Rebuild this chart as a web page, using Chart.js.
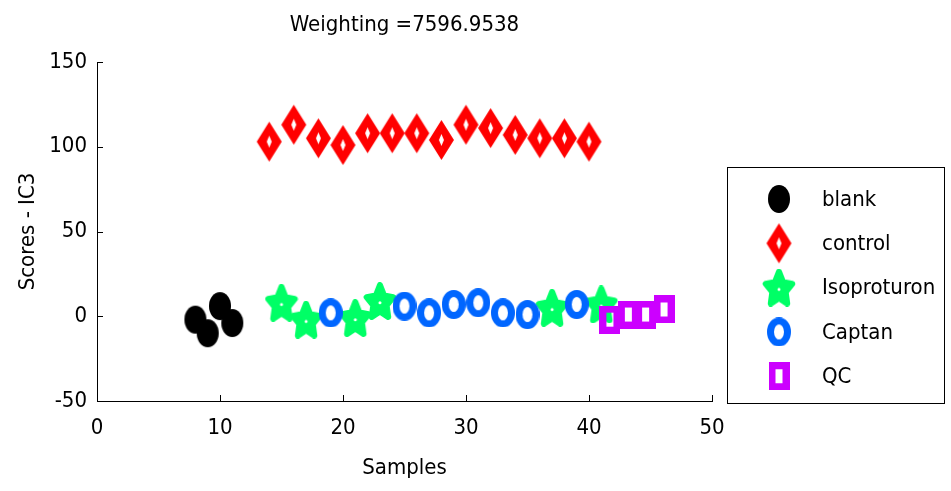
<!DOCTYPE html>
<html>
<head>
<meta charset="utf-8">
<script src="https://cdn.jsdelivr.net/npm/chart.js@4.4.1/dist/chart.umd.min.js"></script>
<style>
  html, body { margin: 0; padding: 0; background: #fff; }
  #wrap { width: 951px; height: 491px; }
</style>
</head>
<body>
<div id="wrap"><canvas id="chart" width="951" height="491"></canvas></div>
<script>
// sample index / IC3 score
const blankX = [8, 9, 10, 11];
const blankY = [-2, -10, 6, -4];
const controlX = [14, 16, 18, 20, 22, 24, 26, 28, 30, 32, 34, 36, 38, 40];
const controlY = [103, 113, 105, 101, 108, 108, 108, 104, 113, 111, 107, 105, 105, 103];
const isoX = [15, 17, 21, 23, 37, 41];
const isoY = [8, -2, -1, 9, 5, 7];
const captanX = [19, 25, 27, 29, 31, 33, 35, 39];
const captanY = [2, 6, 2, 7, 8, 2, 1, 7];
const qcX = [41.7, 43.2, 44.6, 46.1];
const qcY = [-2, 1, 1, 4];

const seriesNames = ['blank', 'control', 'Isoproturon', 'Captan', 'QC'];
const xTicks = [0, 10, 20, 30, 40, 50];
const yTicks = [-50, 0, 50, 100, 150];

const FONT = "'Liberation Sans Narrow', 'DejaVu Sans Condensed', 'Liberation Sans', sans-serif";
const FSIZE = 22;

// --- marker images (MATLAB-like symbols, a bit taller than wide) ---
function makeMarker(w, h, draw) {
    const c = document.createElement('canvas');
    c.width = w; c.height = h;
    draw(c.getContext('2d'), w, h);
    return c;
}

const blankMarker = makeMarker(24, 30, (ctx, w, h) => {
    ctx.fillStyle = '#000';
    ctx.beginPath();
    ctx.ellipse(w / 2, h / 2, w / 2 - 1, h / 2 - 1, 0, 0, Math.PI * 2);
    ctx.fill();
});

const diamondMarker = makeMarker(27, 42, (ctx, w, h) => {
    ctx.fillStyle = '#ff0000';
    ctx.beginPath();
    ctx.moveTo(w / 2, 1); ctx.lineTo(w - 1, h / 2); ctx.lineTo(w / 2, h - 1); ctx.lineTo(1, h / 2);
    ctx.closePath(); ctx.fill();
    ctx.fillStyle = '#fff';
    ctx.beginPath();
    ctx.moveTo(w / 2, h / 2 - 6); ctx.lineTo(w / 2 + 2.5, h / 2); ctx.lineTo(w / 2, h / 2 + 6); ctx.lineTo(w / 2 - 2.5, h / 2);
    ctx.closePath(); ctx.fill();
});

const starMarker = makeMarker(34, 38, (ctx, w, h) => {
    const lw = 6;
    const rx = w / 2 - lw / 2, ry = (h - lw) / 1.81;
    const cx = w / 2, cy = lw / 2 + ry;
    ctx.fillStyle = '#00ff66';
    ctx.strokeStyle = '#00ff66';
    ctx.lineWidth = lw;
    ctx.lineJoin = 'round';
    ctx.beginPath();
    for (let i = 0; i < 10; i++) {
        const a = -Math.PI / 2 + i * Math.PI / 5;
        const r = i % 2 === 0 ? 1 : 0.5;
        const px = cx + Math.cos(a) * rx * r, py = cy + Math.sin(a) * ry * r;
        if (i === 0) ctx.moveTo(px, py); else ctx.lineTo(px, py);
    }
    ctx.closePath(); ctx.fill(); ctx.stroke();
    ctx.fillStyle = '#fff';
    ctx.beginPath(); ctx.arc(cx, cy, 1.5, 0, Math.PI * 2); ctx.fill();
});

const circleMarker = makeMarker(24, 29, (ctx, w, h) => {
    ctx.strokeStyle = '#0066ff';
    ctx.lineWidth = 7;
    ctx.beginPath();
    ctx.ellipse(w / 2, h / 2, w / 2 - 3.5, h / 2 - 3.5, 0, 0, Math.PI * 2);
    ctx.stroke();
});

const squareMarker = makeMarker(21, 28, (ctx, w, h) => {
    ctx.strokeStyle = '#cc00ff';
    ctx.lineWidth = 7;
    ctx.strokeRect(3.5, 3.5, w - 7, h - 7);
});

function pts(xs, ys) {
    return xs.map((x, i) => ({ x: x, y: ys[i] }));
}

// MATLAB-style ticks pointing into the plot
const innerTicks = {
    id: 'innerTicks',
    afterDatasetsDraw(chart) {
        const ctx = chart.ctx, a = chart.chartArea;
        const xs = chart.scales.x, ys = chart.scales.y;
        ctx.save();
        ctx.strokeStyle = '#000';
        ctx.lineWidth = 1;
        ctx.beginPath();
        xTicks.forEach(v => {
            if (v === xs.min) return;
            const px = Math.round(xs.getPixelForValue(v)) + 0.5;
            ctx.moveTo(px, a.bottom); ctx.lineTo(px, a.bottom - 6);
        });
        yTicks.forEach(v => {
            if (v === ys.min) return;
            const py = Math.round(ys.getPixelForValue(v)) + 0.5;
            ctx.moveTo(a.left, py); ctx.lineTo(a.left + 6, py);
        });
        ctx.stroke();
        ctx.restore();
    }
};

// boxed legend to the right of the axes
const boxLegend = {
    id: 'boxLegend',
    afterDraw(chart) {
        const ctx = chart.ctx;
        ctx.save();
        ctx.strokeStyle = '#000';
        ctx.lineWidth = 1;
        ctx.strokeRect(727.5, 167.5, 217, 236);
        ctx.font = FSIZE + 'px ' + FONT;
        ctx.fillStyle = '#000';
        ctx.textBaseline = 'middle';
        chart.data.datasets.forEach((ds, i) => {
            const y = 199 + i * 44.3;
            const m = ds.pointStyle;
            ctx.drawImage(m, 779 - m.width / 2, y - m.height / 2);
            ctx.fillText(ds.label, 822, y + 1);
        });
        ctx.restore();
    }
};

const markers = [blankMarker, diamondMarker, starMarker, circleMarker, squareMarker];
const allData = [pts(blankX, blankY), pts(controlX, controlY), pts(isoX, isoY), pts(captanX, captanY), pts(qcX, qcY)];

new Chart(document.getElementById('chart'), {
    type: 'scatter',
    data: {
        datasets: seriesNames.map((name, i) => ({
            label: name,
            data: allData[i],
            pointStyle: markers[i],
            order: seriesNames.length - i
        }))
    },
    options: {
        responsive: false,
        animation: false,
        layout: { padding: { left: 0, right: 239, top: 0, bottom: 0 } },
        plugins: {
            legend: { display: false },
            tooltip: { enabled: false },
            title: {
                display: true,
                fullSize: false,
                text: 'Weighting =7596.9538',
                color: '#000',
                font: { family: FONT, size: FSIZE, weight: 'normal', lineHeight: 1.2 },
                padding: { top: 12, bottom: 23.6 }
            }
        },
        scales: {
            x: {
                type: 'linear',
                min: 0, max: 50,
                afterFit: s => { s.height = 90; },
                afterBuildTicks: s => { s.ticks = xTicks.map(v => ({ value: v })); },
                grid: { display: false, drawTicks: false, tickLength: 0 },
                border: { display: true, color: '#000', width: 1 },
                ticks: { color: '#000', padding: 14, font: { family: FONT, size: FSIZE }, maxRotation: 0 },
                title: {
                    display: true, text: 'Samples', color: '#000',
                    font: { family: FONT, size: FSIZE, lineHeight: 1.2 },
                    padding: { top: 0, bottom: 10 }
                }
            },
            y: {
                type: 'linear',
                min: -50, max: 150,
                afterFit: s => { s.width = 97; },
                afterBuildTicks: s => { s.ticks = yTicks.map(v => ({ value: v })); },
                grid: { display: false, drawTicks: false, tickLength: 0 },
                border: { display: true, color: '#000', width: 1 },
                ticks: { color: '#000', padding: 10, font: { family: FONT, size: FSIZE } },
                title: {
                    display: true, text: 'Scores - IC3', color: '#000',
                    font: { family: FONT, size: FSIZE, lineHeight: 1.2 },
                    padding: { top: 15, bottom: 0 }
                }
            }
        }
    },
    plugins: [innerTicks, boxLegend]
});
</script>
</body>
</html>
